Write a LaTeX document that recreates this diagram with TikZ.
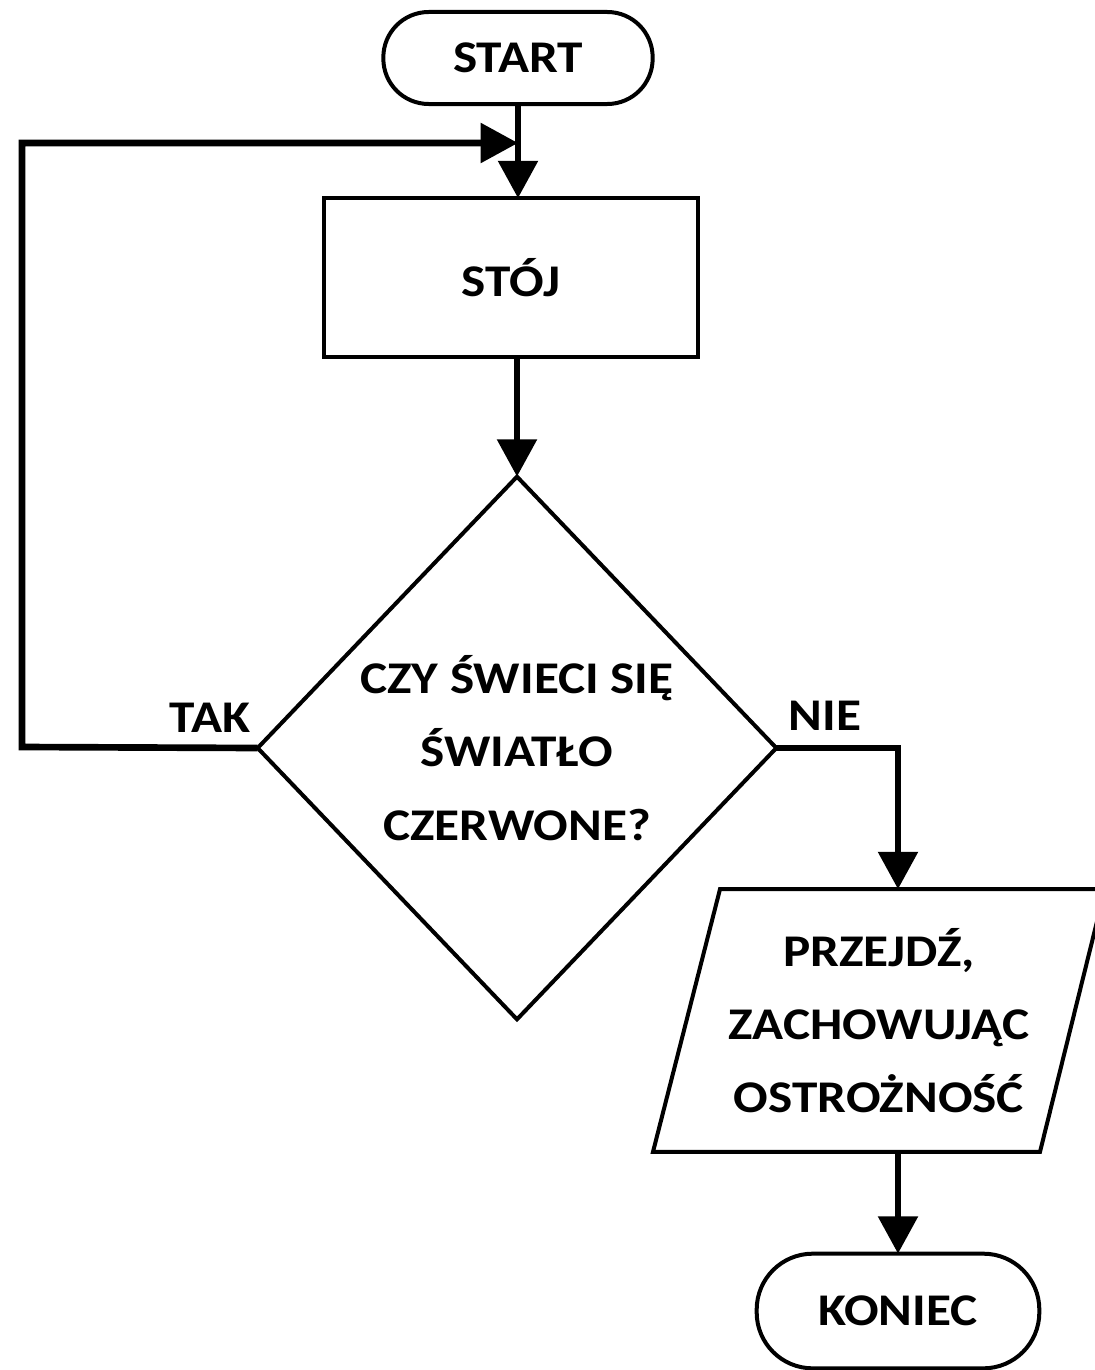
\documentclass[tikz,border=0pt]{standalone}
\usepackage{fontspec}
\setmainfont{Carlito}[FakeStretch=1.13]
\usetikzlibrary{arrows.meta,shapes.geometric,calc}

\begin{document}
\begin{tikzpicture}[x=0.75pt,y=-0.75pt,
  every node/.style={font=\fontsize{34}{55}\selectfont\bfseries, inner sep=0pt, outer sep=0pt},
  shape line/.style={line width=3pt, line join=miter},
  terminal/.style={shape line, draw, rectangle, rounded corners=#1},
  process/.style={shape line, draw, rectangle},
  decision/.style={shape line, draw, diamond, align=center},
  flow/.style={line width=5pt, line join=miter,
    -{Triangle[length=28pt,width=29pt]}}]

  \useasboundingbox (0,0) rectangle (1095,1370);
  \clip (0,0) rectangle (1095,1370);

  % flowchart nodes
  \node[terminal=34pt, minimum width=202pt, minimum height=69pt] (start) at (518,58) {START};
  \node[process, minimum width=280pt, minimum height=119pt] (stop) at (511,277.5) {STÓJ};
  \node[decision, minimum width=389pt, minimum height=407pt] (dec) at (517,748)
    {CZY ŚWIECI SIĘ\\ŚWIATŁO\\CZERWONE?};
  \node[terminal=42pt, minimum width=212pt, minimum height=86pt] (end) at (898,1311) {KONIEC};

  % slanted input/output box: anchor node plus its outline
  \node[rectangle, minimum width=339pt, minimum height=197pt, align=center] (go) at (879,1020.5)
    {PRZEJDŹ,\\ZACHOWUJĄC\\OSTROŻNOŚĆ};
  \draw[shape line] ($(go.north west)+(67,0)$) -- (go.north east)
    -- ($(go.south east)+(-65,0)$) -- (go.south west) -- cycle;

  % branch labels
  \node (tak) at (210,718) {TAK};
  \node (nie) at (825,716) {NIE};

  % connectors
  \coordinate (merge) at (start.south |- 0,143);
  \coordinate (loopcorner) at (22,747);
  \draw[flow] (start.south) -- (start.south |- stop.north);
  \draw[flow] (stop.south -| dec.north) -- (dec.north);
  \draw[flow] (dec.west) -- (loopcorner) |- (merge);
  \draw[flow] (dec.east) -| (go.north -| end.north);
  \draw[flow] (go.south -| end.north) -- (end.north);
\end{tikzpicture}
\end{document}
